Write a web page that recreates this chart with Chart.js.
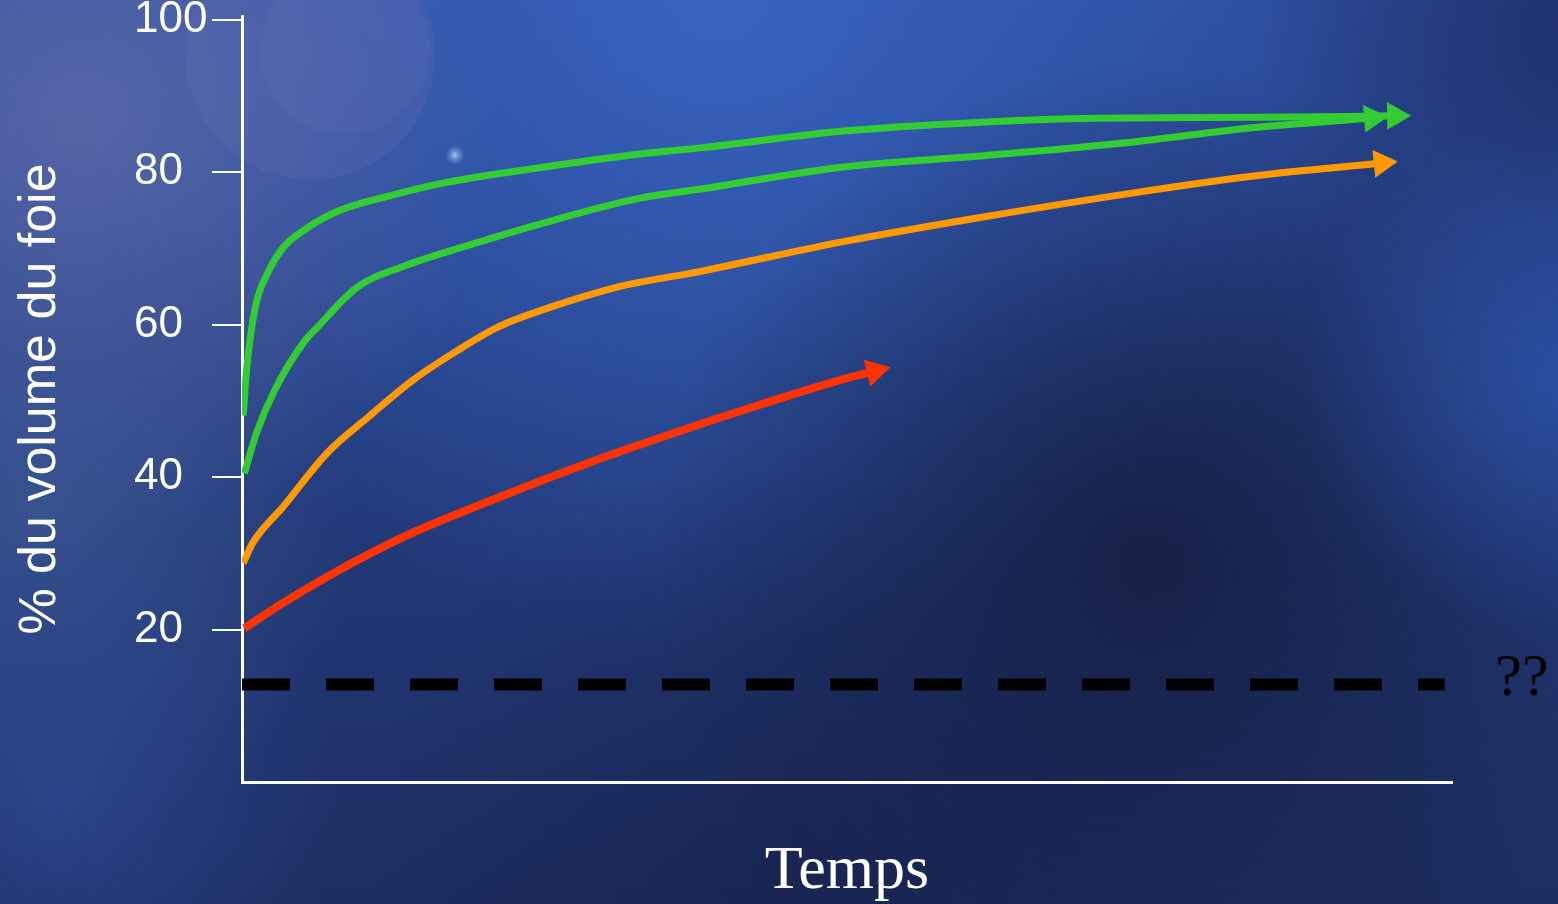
<!DOCTYPE html>
<html>
<head>
<meta charset="utf-8">
<script src="https://cdn.jsdelivr.net/npm/chart.js@4/dist/chart.umd.min.js"></script>
<style>
  html, body { margin: 0; padding: 0; background: #1f3370; }
  #wrap { width: 1558px; height: 904px; position: relative; }
  canvas { display: block; }
</style>
</head>
<body>
<div id="wrap"><canvas id="c" width="1558" height="904"></canvas></div>
<script>
// ---- Data ----
const yTitle = "% du volume du foie";
const xTitle = "Temps";
const unknownLabel = "??";
const yTickValues = [20, 40, 60, 80, 100];

const green1Time = [0.1, 0.4, 1.1, 2.1, 3.4, 5.4, 8.1, 12.2, 16.4, 24.6, 32.9, 37.9, 49.7, 61.5, 70.3, 84.1, 95.3];
const green1Vals = [48.1, 54.4, 62.3, 66.7, 70.1, 72.7, 75.0, 76.9, 78.5, 80.6, 82.4, 83.2, 85.4, 86.6, 87.1, 87.2, 87.4];

const green2Time = [0.2, 1.2, 2.7, 5.2, 6.2, 9.5, 13.6, 19.1, 24.6, 32.9, 37.9, 49.7, 61.5, 73.3, 83.3, 93.4];
const green2Vals = [40.5, 45.8, 51.4, 57.9, 59.6, 64.9, 67.8, 70.6, 73.2, 76.6, 77.8, 80.7, 82.2, 83.9, 85.8, 87.1];

const orangeTime = [0.1, 0.9, 3.4, 7.0, 10.6, 14.1, 17.8, 21.3, 25.5, 31.2, 37.9, 49.7, 61.5, 73.3, 84.1, 94.2];
const orangeVals = [28.7, 31.4, 36.1, 43.1, 48.1, 52.7, 56.6, 59.8, 62.3, 65.0, 67.0, 70.9, 74.2, 77.2, 79.6, 81.2];

const redTime = [0.2, 3.4, 7.0, 10.6, 14.1, 21.3, 28.5, 35.7, 42.8, 50.0, 52.3];
const redVals = [20.2, 23.5, 26.9, 30.0, 32.7, 37.4, 41.8, 45.8, 49.5, 53.0, 53.9];

const thresholdTime = [0, 99.4];
const thresholdVals = [12.8, 12.8];

// ---- Helpers ----
const pts = (xs, ys) => xs.map((x, i) => ({x: x, y: ys[i]}));

function arrowRadius(ctx) {
  return ctx.dataIndex === ctx.dataset.data.length - 1 ? 16 : 0;
}
function arrowRotation(ctx) {
  const d = ctx.dataset.data;
  const n = d.length;
  if (ctx.dataIndex !== n - 1 || n < 2) return 0;
  const xs = ctx.chart.scales.x, ys = ctx.chart.scales.y;
  const x1 = xs.getPixelForValue(d[n - 2].x), y1 = ys.getPixelForValue(d[n - 2].y);
  const x2 = xs.getPixelForValue(d[n - 1].x), y2 = ys.getPixelForValue(d[n - 1].y);
  return 90 + Math.atan2(y2 - y1, x2 - x1) * 180 / Math.PI;
}
function curve(label, xs, ys, color, width) {
  return {
    label: label,
    data: pts(xs, ys),
    yAxisID: 'y',
    borderColor: color,
    backgroundColor: color,
    borderWidth: width,
    cubicInterpolationMode: 'monotone',
    borderCapStyle: 'butt',
    fill: false,
    pointStyle: 'triangle',
    pointRadius: arrowRadius,
    pointHoverRadius: arrowRadius,
    pointRotation: arrowRotation,
    pointBorderWidth: 0,
    pointBackgroundColor: color,
    pointBorderColor: color
  };
}

// ---- Background plugin ----
const bgPlugin = {
  id: 'bg',
  beforeDraw(chart) {
    const ctx = chart.ctx, W = chart.width, H = chart.height;
    ctx.save();
    let g = ctx.createLinearGradient(0, 0, 0, H);
    g.addColorStop(0, '#2c4c9c');
    g.addColorStop(0.55, '#223a7a');
    g.addColorStop(1, '#1d2d60');
    ctx.fillStyle = g; ctx.fillRect(0, 0, W, H);

    const blob = (x, y, r, c0, c1) => {
      const rg = ctx.createRadialGradient(x, y, 0, x, y, r);
      rg.addColorStop(0, c0); rg.addColorStop(1, c1);
      ctx.fillStyle = rg; ctx.fillRect(0, 0, W, H);
    };
    blob(720, 0, 650, 'rgba(58,104,200,0.8)', 'rgba(58,104,200,0)');
    blob(80, 120, 420, 'rgba(105,115,175,0.7)', 'rgba(105,115,175,0)');
    blob(40, 520, 320, 'rgba(70,100,160,0.55)', 'rgba(70,100,160,0)');
    blob(1150, 560, 500, 'rgba(18,26,58,0.8)', 'rgba(18,26,58,0)');
    blob(780, 880, 420, 'rgba(20,30,70,0.5)', 'rgba(20,30,70,0)');
    blob(1580, 20, 330, 'rgba(26,40,90,0.75)', 'rgba(26,40,90,0)');
    blob(1560, 380, 260, 'rgba(45,85,175,0.7)', 'rgba(45,85,175,0)');
    blob(60, 800, 280, 'rgba(45,75,150,0.7)', 'rgba(45,75,150,0)');
    // faint halo circles
    ctx.fillStyle = 'rgba(150,140,200,0.10)';
    ctx.beginPath(); ctx.arc(310, 55, 125, 0, Math.PI * 2); ctx.fill();
    ctx.fillStyle = 'rgba(150,140,200,0.07)';
    ctx.beginPath(); ctx.arc(345, 50, 85, 0, Math.PI * 2); ctx.fill();
    // tiny glint
    blob(455, 155, 10, 'rgba(200,230,255,0.75)', 'rgba(120,170,230,0)');
    ctx.restore();
  }
};

const labelPlugin = {
  id: 'qq',
  afterDraw(chart) {
    const ctx = chart.ctx;
    const xs = chart.scales.x, ys = chart.scales.y;
    ctx.save();
    ctx.fillStyle = '#000000';
    ctx.font = '60px "Liberation Serif", "Times New Roman", serif';
    ctx.textAlign = 'center';
    ctx.textBaseline = 'alphabetic';
    ctx.fillText(unknownLabel, xs.right + 70, ys.getPixelForValue(thresholdVals[0]) + 11);
    ctx.restore();
  }
};

new Chart(document.getElementById('c'), {
  type: 'line',
  data: {
    datasets: [
      curve('green1', green1Time, green1Vals, '#33cc33', 7),
      curve('green2', green2Time, green2Vals, '#33cc33', 7),
      curve('orange', orangeTime, orangeVals, '#ff9900', 7),
      curve('red', redTime, redVals, '#ff3300', 8),
      {
        label: 'threshold',
        data: pts(thresholdTime, thresholdVals),
        yAxisID: 'y',
        borderColor: '#000000',
        borderWidth: 12,
        borderDash: [48, 36],
        borderCapStyle: 'butt',
        pointRadius: 0,
        tension: 0,
        fill: false
      }
    ]
  },
  options: {
    responsive: false,
    animation: false,
    devicePixelRatio: 1,
    layout: { padding: { top: 15, right: 106, left: 0, bottom: 0 } },
    plugins: { legend: { display: false }, tooltip: { enabled: false } },
    events: [],
    scales: {
      x: {
        type: 'linear',
        min: 0,
        max: 100,
        grid: { display: false, drawTicks: false },
        border: { display: true, color: '#ffffff', width: 3 },
        ticks: { display: false },
        title: {
          display: true,
          text: xTitle,
          color: '#ffffff',
          font: { family: '"Liberation Serif", "Times New Roman", serif', size: 62, lineHeight: 1 },
          padding: { top: 0, bottom: 1 }
        },
        afterFit(s) { s.height = 122; }
      },
      y: {
        type: 'linear',
        axis: 'y',
        position: 'left',
        weight: 0,
        min: 0,
        max: 100.5,
        afterBuildTicks(s) {
          s.ticks = yTickValues.map(v => ({value: v}));
        },
        afterFit(s) { s.width = 108; s.paddingTop = 0; s.paddingBottom = 0; },
        grid: {
          display: true,
          drawOnChartArea: false,
          drawTicks: true,
          tickLength: 30,
          color: '#ffffff',
          lineWidth: 2
        },
        border: { display: true, color: '#ffffff', width: 3 },
        ticks: {
          color: '#ffffff',
          padding: 10,
          crossAlign: 'far',
          font: { family: '"Liberation Sans Narrow", "Liberation Sans", Arial, sans-serif', size: 44 }
        },
        title: { display: false }
      },
      yLabel: {
        type: 'linear',
        axis: 'y',
        position: 'left',
        weight: 1,
        display: true,
        min: 0,
        max: 1,
        grid: { display: false, drawTicks: false },
        border: { display: false },
        ticks: { display: false },
        afterFit(s) { s.width = 134; s.paddingTop = 0; s.paddingBottom = 0; },
        title: {
          display: true,
          text: yTitle,
          color: '#ffffff',
          font: { family: '"Liberation Sans", Arial, sans-serif', size: 52, lineHeight: 1.2 },
          padding: { top: 9, bottom: 0 }
        }
      }
    }
  },
  plugins: [bgPlugin, labelPlugin]
});
</script>
</body>
</html>
